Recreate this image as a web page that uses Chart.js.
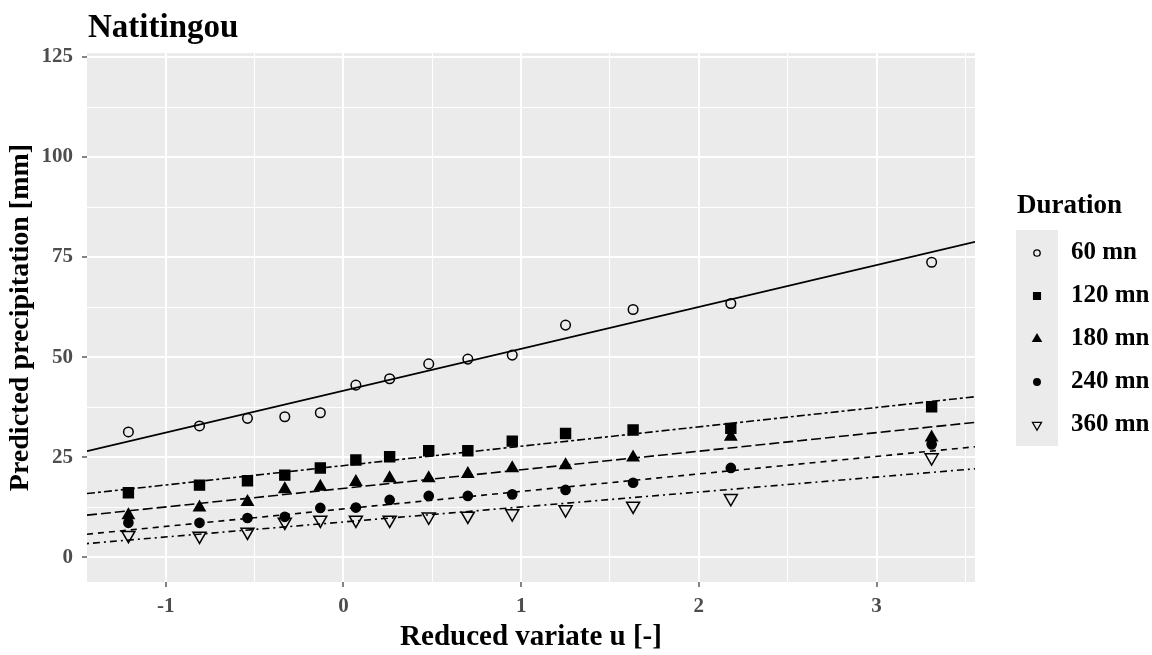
<!DOCTYPE html>
<html>
<head>
<meta charset="utf-8">
<script src="https://cdn.jsdelivr.net/npm/chart.js@4/dist/chart.umd.min.js"></script>
<style>
  html, body { margin: 0; padding: 0; background: #fff; }
  #wrap { width: 1152px; height: 655px; }
</style>
</head>
<body>
<div id="wrap"><canvas id="plot" width="1152" height="655"></canvas></div>
<script>
// reduced variate of each plotted point (same for every duration)
const uPts = [-1.21, -0.81, -0.54, -0.33, -0.13, 0.07, 0.26, 0.48, 0.70, 0.95, 1.25, 1.63, 2.18, 3.31];

// observed precipitation per duration [mm]
const p60  = [31.3, 32.8, 34.7, 35.1, 36.1, 43.0, 44.6, 48.3, 49.5, 50.5, 58.0, 61.9, 63.4, 73.7];
const p120 = [16.1, 18.0, 19.1, 20.5, 22.3, 24.3, 25.1, 26.6, 26.6, 29.0, 30.9, 31.8, 32.2, 37.6];
const p180 = [10.5, 12.4, 13.8, 17.0, 17.6, 18.8, 19.7, 19.7, 20.8, 22.2, 23.0, 24.9, 30.1, 29.9];
const p240 = [8.6, 8.6, 9.8, 10.1, 12.3, 12.4, 14.3, 15.3, 15.3, 15.7, 16.8, 18.6, 22.3, 28.2];
const p360 = [5.5, 5.3, 6.3, 8.8, 9.3, 9.3, 9.3, 10.1, 10.3, 10.9, 11.9, 12.8, 14.7, 24.9];

// fitted lines, value at both ends of the x range
const uEnds = [-1.443, 3.554];
const f60  = [26.5, 78.8];
const f120 = [15.9, 40.1];
const f180 = [10.5, 33.7];
const f240 = [5.75, 27.6];
const f360 = [3.4, 22.1];

const durations = ['60 mn', '120 mn', '180 mn', '240 mn', '360 mn'];

const serif = 'Liberation Serif, Times New Roman, serif';
const toXY = (xs, ys) => xs.map((x, i) => ({x: x, y: ys[i]}));

const marks = [
  {d: p60,  style: 'circle',   r: 4.8, fill: 'rgba(0,0,0,0)', rot: 0,   lr: 3.2},
  {d: p120, style: 'rect',     r: 7,   fill: '#000',          rot: 0,   lr: 4.8},
  {d: p180, style: 'triangle', r: 6.5, fill: '#000',          rot: 0,   lr: 4.8},
  {d: p240, style: 'circle',   r: 4.6, fill: '#000',          rot: 0,   lr: 3.3},
  {d: p360, style: 'triangle', r: 7.5, fill: 'rgba(0,0,0,0)', rot: 180, lr: 5.2}
];
const fits = [
  {d: f60,  dash: []},
  {d: f120, dash: [8, 3, 3, 3]},
  {d: f180, dash: [10, 4]},
  {d: f240, dash: [6, 5]},
  {d: f360, dash: [2, 4, 7, 4]}
];

let datasets = [];
fits.forEach((f, i) => {
  datasets.push({
    label: 'fit ' + durations[i],
    data: toXY(uEnds, f.d),
    showLine: true,
    borderColor: '#000',
    borderWidth: 1.6,
    borderDash: f.dash,
    pointRadius: 0,
    fill: false
  });
});
marks.forEach((m, i) => {
  datasets.push({
    label: durations[i],
    data: toXY(uPts, m.d),
    showLine: false,
    pointStyle: m.style,
    pointRadius: m.r,
    pointRotation: m.rot,
    pointBackgroundColor: m.fill,
    pointBorderColor: '#000',
    pointBorderWidth: 1.5,
    legendRadius: m.lr
  });
});

const isMajor = v => Math.abs(v - Math.round(v / 25) * 25) < 1e-6;
const isInt = v => Math.abs(v - Math.round(v)) < 1e-6;

// grey panel, title and the duration legend
const ggPanel = {
  id: 'ggPanel',
  beforeDraw(chart) {
    const {ctx, chartArea: a} = chart;
    ctx.save();
    ctx.fillStyle = '#ebebeb';
    ctx.fillRect(a.left, a.top, a.right - a.left, a.bottom - a.top);
    ctx.restore();
  },
  afterDraw(chart) {
    const ctx = chart.ctx;
    ctx.save();
    ctx.fillStyle = '#000';
    ctx.textBaseline = 'middle';
    ctx.textAlign = 'left';
    ctx.font = 'bold 33px ' + serif;
    ctx.fillText('Natitingou', 88, 28);

    ctx.font = 'bold 27px ' + serif;
    ctx.fillText('Duration', 1017, 206);

    ctx.fillStyle = '#ebebeb';
    ctx.fillRect(1016, 230, 42, 216);

    const ds = chart.data.datasets.filter(d => d.showLine === false);
    ds.forEach((d, i) => {
      const y = 253 + i * 43;
      ctx.fillStyle = d.pointBackgroundColor;
      ctx.strokeStyle = '#000';
      ctx.lineWidth = 1.3;
      Chart.helpers.drawPoint(ctx, {
        pointStyle: d.pointStyle, radius: d.legendRadius, rotation: d.pointRotation, borderWidth: 1.3
      }, 1037, y);
      ctx.fillStyle = '#000';
      ctx.font = 'bold 25px ' + serif;
      ctx.fillText(d.label, 1071, y);
    });
    ctx.restore();
  }
};

new Chart(document.getElementById('plot'), {
  type: 'scatter',
  data: {datasets: datasets},
  plugins: [ggPanel],
  options: {
    responsive: false,
    animation: false,
    layout: {padding: {left: 0, top: 53, right: 177, bottom: 0}},
    plugins: {legend: {display: false}, tooltip: {enabled: false}, title: {display: false}},
    scales: {
      x: {
        type: 'linear',
        min: uEnds[0],
        max: uEnds[1],
        afterFit: s => { s.height = 73; },
        border: {display: false},
        grid: {
          color: '#ffffff',
          lineWidth: c => isInt(c.tick.value) ? 2 : 1,
          tickColor: c => isInt(c.tick.value) ? '#333333' : 'rgba(0,0,0,0)',
          tickLength: 5,
          tickWidth: 1.2
        },
        ticks: {
          stepSize: 0.5,
          includeBounds: false,
          maxRotation: 0,
          autoSkip: false,
          padding: 7,
          color: '#4d4d4d',
          font: {family: serif, size: 21, weight: 'bold'},
          callback: v => isInt(v) ? String(Math.round(v)) : ''
        },
        title: {
          display: true,
          text: 'Reduced variate u [-]',
          color: '#000',
          font: {family: serif, size: 29, weight: 'bold'},
          padding: {top: 6, bottom: 0}
        }
      },
      y: {
        type: 'linear',
        min: -6.2,
        max: 126,
        afterFit: s => { s.width = 87; },
        border: {display: false},
        grid: {
          color: '#ffffff',
          lineWidth: c => isMajor(c.tick.value) ? 2 : 1,
          tickColor: c => isMajor(c.tick.value) ? '#333333' : 'rgba(0,0,0,0)',
          tickLength: 5,
          tickWidth: 1.2
        },
        ticks: {
          stepSize: 12.5,
          includeBounds: false,
          autoSkip: false,
          padding: 9,
          color: '#4d4d4d',
          font: {family: serif, size: 21, weight: 'bold'},
          callback: v => isMajor(v) ? String(Math.round(v)) : ''
        },
        title: {
          display: true,
          text: 'Predicted precipitation [mm]',
          color: '#000',
          font: {family: serif, size: 28, weight: 'bold'},
          padding: {top: 4, bottom: 0}
        }
      }
    }
  }
});
</script>
</body>
</html>
